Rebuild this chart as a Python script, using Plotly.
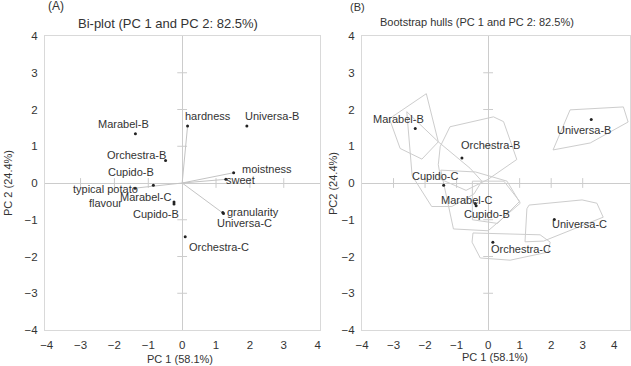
import plotly.graph_objects as go

# ---------------- Panel A: bi-plot ----------------
samples_a = ["Marabel-B", "Orchestra-B", "Cupido-B", "Marabel-C", "Cupido-B",
             "Universa-B", "Universa-C", "Orchestra-C"]
samples_a_pc1 = [-1.38, -0.49, -0.85, -0.24, -0.24, 1.91, 1.20, 0.09]
samples_a_pc2 = [1.34, 0.61, -0.06, -0.52, -0.57, 1.55, -0.80, -1.46]

attributes = ["hardness", "moistness", "sweet", "granularity", "typical potato<br>flavour"]
attr_pc1 = [0.16, 1.52, 1.29, 1.22, -1.39]
attr_pc2 = [1.55, 0.28, 0.10, -0.83, -0.14]

# ---------------- Panel B: bootstrap hulls ----------------
samples_b = ["Marabel-B", "Orchestra-B", "Cupido-C", "Marabel-C", "Cupido-B",
             "Orchestra-C", "Universa-C", "Universa-B"]
samples_b_pc1 = [-2.31, -0.83, -1.41, -0.41, -0.38, 0.15, 2.10, 3.27]
samples_b_pc2 = [1.48, 0.68, -0.06, -0.56, -0.62, -1.61, -0.99, 1.73]

hull_marabel_b_x = [-3.13, -1.96, -1.58, -2.10, -2.79]
hull_marabel_b_y = [1.75, 2.43, 1.12, 0.65, 0.94]
hull_cupido_c_x = [-2.58, -1.58, -0.57, -0.20, -0.45, -1.15, -1.79, -2.41]
hull_cupido_c_y = [1.94, 1.12, 0.40, 0.05, -0.30, -0.64, -0.64, 0.20]
hull_orchestra_b_x = [-1.21, 0.17, 0.49, 0.91, 0.00, -0.70, -1.50, -1.58, -1.52]
hull_orchestra_b_y = [1.53, 1.80, 1.67, 0.64, 0.10, -0.20, 0.10, 0.50, 0.99]
hull_marabel_c_x = [-1.50, -1.10, 0.00, 1.02, 0.60, -0.40]
hull_marabel_c_y = [0.35, -1.25, -1.30, -0.55, 0.05, 0.30]
hull_cupido_b_x = [-0.50, 0.50, 1.00, 0.30, -0.50]
hull_cupido_b_y = [0.05, 0.05, -0.50, -1.10, -1.00]
hull_orchestra_c_x = [-0.48, 1.65, 1.97, 1.90, 0.70, -0.25, -0.51]
hull_orchestra_c_y = [-1.36, -1.41, -1.61, -1.88, -2.10, -2.04, -1.61]
hull_universa_c_x = [1.23, 1.30, 2.98, 3.45, 3.65, 2.60, 1.76, 1.17]
hull_universa_c_y = [-0.70, -0.60, -0.46, -0.55, -0.93, -1.30, -1.58, -1.60]
hull_universa_b_x = [2.06, 2.60, 4.29, 4.44, 3.24]
hull_universa_b_y = [0.90, 1.99, 2.07, 1.66, 1.09]

hulls = [
    (hull_marabel_b_x, hull_marabel_b_y), (hull_cupido_c_x, hull_cupido_c_y),
    (hull_orchestra_b_x, hull_orchestra_b_y), (hull_marabel_c_x, hull_marabel_c_y),
    (hull_cupido_b_x, hull_cupido_b_y), (hull_orchestra_c_x, hull_orchestra_c_y),
    (hull_universa_c_x, hull_universa_c_y), (hull_universa_b_x, hull_universa_b_y),
]

tick_vals = [-4, -3, -2, -1, 0, 1, 2, 3, 4]
inner_ticks = [-3, -2, -1, 1, 2, 3]

# label offsets in pixels (style only)
shift_a = [(-12, 10), (-29, 6), (-22, 13), (-29, 5), (-18, -10), (25, 10), (22, -11), (34, -10)]
shift_attr = [(20, 10), (33, 4), (15, -1), (30, 2), (-30, -8)]
shift_b = [(-17, 10), (29, 13), (-8, 9), (-9, 4), (11, -8), (28, -7), (25, -5), (-7, -11)]

FONT = "Liberation Sans, Arial, sans-serif"
TXT = "#333333"
AXC = "#cccccc"
FRAME = "#d9d9d9"
HULL = "#cdcdcd"

fig = go.Figure()

# inner tick marks on the zero lines
for xa, ya in (("x", "y"), ("x2", "y2")):
    fig.add_trace(go.Scatter(x=inner_ticks, y=[0] * len(inner_ticks), mode="markers",
                             marker=dict(symbol="line-ns", size=7, line=dict(width=1, color=AXC)),
                             xaxis=xa, yaxis=ya, hoverinfo="skip", showlegend=False))
    fig.add_trace(go.Scatter(x=[0] * len(inner_ticks), y=inner_ticks, mode="markers",
                             marker=dict(symbol="line-ew", size=7, line=dict(width=1, color=AXC)),
                             xaxis=xa, yaxis=ya, hoverinfo="skip", showlegend=False))

# attribute vectors
for ax_, ay_ in zip(attr_pc1, attr_pc2):
    fig.add_trace(go.Scatter(x=[0, ax_], y=[0, ay_], mode="lines",
                             line=dict(color="#c4c4c4", width=1),
                             xaxis="x", yaxis="y", hoverinfo="skip", showlegend=False))

# hulls
for hx, hy in hulls:
    fig.add_trace(go.Scatter(x=hx + [hx[0]], y=hy + [hy[0]], mode="lines",
                             line=dict(color=HULL, width=1),
                             xaxis="x2", yaxis="y2", hoverinfo="skip", showlegend=False))

# points
fig.add_trace(go.Scatter(x=samples_a_pc1 + attr_pc1, y=samples_a_pc2 + attr_pc2, mode="markers",
                         marker=dict(size=3, color="#222222"), xaxis="x", yaxis="y",
                         hoverinfo="skip", showlegend=False))
fig.add_trace(go.Scatter(x=samples_b_pc1, y=samples_b_pc2, mode="markers",
                         marker=dict(size=3, color="#222222"), xaxis="x2", yaxis="y2",
                         hoverinfo="skip", showlegend=False))

annotations = []


def lab(text, x, y, sh, xref, yref):
    annotations.append(dict(text=text, x=x, y=y, xref=xref, yref=yref, showarrow=False,
                            xshift=sh[0], yshift=sh[1], xanchor="center", yanchor="middle",
                            font=dict(family=FONT, size=11, color=TXT)))


for t, x, y, s in zip(samples_a, samples_a_pc1, samples_a_pc2, shift_a):
    lab(t, x, y, s, "x", "y")
for t, x, y, s in zip(attributes, attr_pc1, attr_pc2, shift_attr):
    lab(t, x, y, s, "x", "y")
for t, x, y, s in zip(samples_b, samples_b_pc1, samples_b_pc2, shift_b):
    lab(t, x, y, s, "x2", "y2")

W, H = 631, 366


def ptext(text, px, py, size, angle=0):
    annotations.append(dict(text=text, x=px / W, y=1 - py / H, xref="paper", yref="paper",
                            showarrow=False, xanchor="center", yanchor="middle", textangle=angle,
                            font=dict(family=FONT, size=size, color=TXT)))


ptext("(A)", 55.5, 6.5, 12)
ptext("Bi-plot (PC 1 and PC 2: 82.5%)", 168, 24, 13)
ptext("(B)", 357, 7, 11)
ptext("Bootstrap hulls (PC 1 and PC 2: 82.5%)", 477, 22, 11)
ptext("PC 1 (58.1%)", 180, 359, 11)
ptext("PC 1 (58.1%)", 495, 357, 11)
ptext("PC 2 (24.4%)", 8, 183, 11, -90)
ptext("PC2 (24.4%)", 333, 184, 11, -90)

axis_common = dict(tickvals=tick_vals, showgrid=False, showline=True, mirror=True,
                   linecolor=FRAME, linewidth=1, zeroline=True, zerolinecolor=AXC,
                   zerolinewidth=1, ticks="outside", ticklen=4, tickcolor="rgba(0,0,0,0)",
                   tickfont=dict(family=FONT, size=11.5, color=TXT), fixedrange=True,
                   automargin=False)

ydom = [1 - 330 / H, 1 - 36 / H]
fig.update_layout(
    width=W, height=H, margin=dict(l=0, r=0, t=0, b=0, autoexpand=False),
    paper_bgcolor="white", plot_bgcolor="white",
    xaxis=dict(domain=[45 / W, 320 / W], range=[-4.05, 4.07], anchor="y", **axis_common),
    yaxis=dict(domain=ydom, range=[-4.0, 4.0], anchor="x", **axis_common),
    xaxis2=dict(domain=[362 / W, 630 / W], range=[-4.0, 4.5], anchor="y2", **axis_common),
    yaxis2=dict(domain=ydom, range=[-4.0, 4.0], anchor="x2", **axis_common),
    annotations=annotations,
    showlegend=False,
)

fig.write_html("out.html", config={"displayModeBar": False},
               post_script="document.body.style.margin='0';document.body.style.padding='0';")
